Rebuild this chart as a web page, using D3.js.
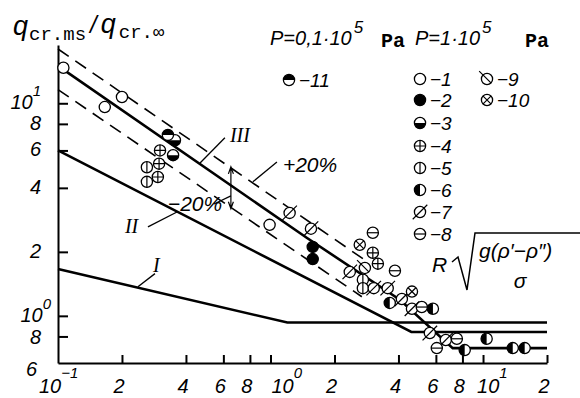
<!DOCTYPE html>
<html>
<head>
<meta charset="utf-8">
<script src="https://cdn.jsdelivr.net/npm/d3@7"></script>
<style>
  body { margin: 0; background: #fff; }
  svg { display: block; background: #fff; }
  .num { font-family: "Liberation Sans", Arial, sans-serif; font-style: italic; }
  .rom { font-family: "Liberation Serif", "DejaVu Serif", serif; font-style: italic; }
  .mono { font-family: "Liberation Mono", "DejaVu Sans Mono", monospace; }
</style>
</head>
<body>
<svg id="chart" width="580" height="398"></svg>
<script>
// grab the svg
let svg = d3.select("#chart");

// curves I, II, III  [x, y]
const curve1 = [[0.1, 1.66], [1.2, 0.93], [20, 0.93]];
const curve2 = [[0.1, 6.0], [4.6, 0.84], [20, 0.84]];
const curve3 = [[0.1, 15.0], [1.48, 2.33], [4.06, 1.19], [7.2, 0.705], [20, 0.705]];
// +20% / -20% band round curve III
const bandUpper = [[0.1, 18.0], [2.78, 1.83]];
const bandLower = [[0.1, 11.6], [2.69, 1.23]];

// experimental points, one list per legend symbol
const pts1 = [[0.106, 14.7], [0.166, 9.6], [0.20, 10.7], [0.99, 2.68]];
const pts2 = [[1.58, 2.11], [1.58, 1.85]];
const pts3 = [[0.355, 6.7], [0.348, 5.7]];
const pts4 = [[0.302, 6.0], [0.299, 5.2], [0.295, 4.5], [3.03, 1.98], [3.2, 1.76]];
const pts5 = [[0.262, 5.0], [0.262, 4.27], [2.72, 1.48], [2.72, 1.35]];
const pts6 = [[3.64, 1.15], [5.81, 1.08], [8.2, 0.69], [10.4, 0.78], [13.8, 0.705], [15.7, 0.705]];
const pts7 = [[1.23, 3.05], [1.55, 2.57], [2.36, 1.61], [3.06, 1.35], [3.56, 1.35], [4.15, 1.20], [4.63, 1.08], [5.62, 0.83], [6.68, 0.77]];
const pts8 = [[3.03, 2.46], [3.85, 1.63], [5.15, 1.10], [6.06, 0.705], [7.53, 0.78]];
const pts9 = [[2.78, 1.68]];
const pts10 = [[2.63, 2.16], [4.63, 1.30]];
const pts11 = [[0.329, 7.1]];
const allPts = [pts1, pts2, pts3, pts4, pts5, pts6, pts7, pts8, pts9, pts10, pts11];

// ticks
const xTicks = [0.1, 0.2, 0.4, 0.6, 0.8, 1, 2, 4, 6, 8, 10, 20];
const xTickText = ["10", "2", "4", "6", "8", "10", "2", "4", "6", "8", "10", "2"];
const xTickSup = ["\u22121", "", "", "", "", "0", "", "", "", "", "1", ""];
const yTicks = [0.6, 0.8, 1, 2, 4, 6, 8, 10];
const yTickText = ["6", "8", "10", "2", "4", "6", "8", "10"];
const yTickSup = ["", "", "0", "", "", "", "", "1"];

// annotations
const curveLabels = [
  { t: "III", x: 0.644, y: 6.58 },
  { t: "II", x: 0.2065, y: 2.46 },
  { t: "I", x: 0.28, y: 1.61 }
];
const pctLabels = [
  { t: "+20%", x: 1.144, y: 4.76 },
  { t: "\u221220%", x: 0.329, y: 3.12 }
];
const leaders = [
  [[0.466, 5.24], [0.61, 6.88]],
  [[0.265, 2.62], [0.363, 3.08]],
  [[0.2378, 1.37], [0.286, 1.58]],
  [[0.826, 4.27], [1.072, 5.30]],
  [[0.542, 3.36], [0.651, 3.67]]
];
const bandArrow = { x: 0.651, y1: 5.02, y2: 3.19 };

// scales
let x = d3.scaleLog().domain([0.1, 20]).range([58, 547]);
let y = d3.scaleLog().domain([0.6, 18.8]).range([363, 45]);

let line = d3.line().x(d => x(d[0])).y(d => y(d[1]));

// axes, ticks pointing inwards
svg.append("g")
  .attr("transform", "translate(58,0)")
  .call(d3.axisLeft(y).tickValues(yTicks.slice(1)).tickSizeInner(-10).tickSizeOuter(0).tickFormat(""))
  .call(g => g.selectAll("path,line").attr("stroke", "#000").attr("stroke-width", 2));
svg.append("g")
  .attr("transform", "translate(0,363)")
  .call(d3.axisBottom(x).tickValues(xTicks.slice(1)).tickSizeInner(-8).tickSizeOuter(0).tickFormat(""))
  .call(g => g.selectAll("path,line").attr("stroke", "#000").attr("stroke-width", 2));

// tick labels
xTicks.forEach((v, i) => {
  let t = svg.append("text").attr("class", "num").attr("font-size", 20).attr("y", 393);
  if (xTickSup[i]) {
    let dx = v === 0.1 ? -19 : v === 1 ? 1 : -6;
    t.attr("x", x(v) + dx).attr("text-anchor", "start").text(xTickText[i]);
    t.append("tspan").attr("dy", -15).attr("font-size", 15).text(xTickSup[i]);
  } else {
    t.attr("x", x(v) - 3).attr("text-anchor", "middle").text(xTickText[i]);
  }
});
yTicks.forEach((v, i) => {
  let base = v === 0.6 ? 376 : v === 0.8 ? y(v) + 8 : y(v) + 6;
  let t = svg.append("text").attr("class", "num").attr("font-size", 20)
    .attr("text-anchor", "end")
    .attr("x", v === 1 ? 51 : v === 0.6 ? 37 : 41)
    .attr("y", base)
    .text(yTickText[i]);
  if (yTickSup[i]) t.append("tspan").attr("dy", -13).attr("font-size", 15).text(yTickSup[i]);
});

// curves
[curve1, curve2, curve3].forEach(c => {
  svg.append("path").datum(c).attr("d", line)
    .attr("fill", "none").attr("stroke", "#000").attr("stroke-width", 2.6);
});
[bandUpper, bandLower].forEach(c => {
  svg.append("path").datum(c).attr("d", line)
    .attr("fill", "none").attr("stroke", "#000").attr("stroke-width", 1.6)
    .attr("stroke-dasharray", "13,8");
});

// leader lines
leaders.forEach(l => {
  svg.append("path").datum(l).attr("d", line)
    .attr("fill", "none").attr("stroke", "#000").attr("stroke-width", 1.3);
});
// double arrow across the band
let ax = x(bandArrow.x), ay1 = y(bandArrow.y1), ay2 = y(bandArrow.y2);
svg.append("path")
  .attr("d", `M${ax},${ay1}V${ay2}M${ax - 2.5},${ay1 + 7}L${ax},${ay1}L${ax + 2.5},${ay1 + 7}M${ax - 2.5},${ay2 - 7}L${ax},${ay2}L${ax + 2.5},${ay2 - 7}`)
  .attr("fill", "none").attr("stroke", "#000").attr("stroke-width", 1.2);

curveLabels.forEach(d => {
  svg.append("text").attr("class", "rom").attr("font-size", 20)
    .attr("x", x(d.x)).attr("y", y(d.y)).text(d.t);
});
pctLabels.forEach(d => {
  svg.append("text").attr("class", "num").attr("font-size", 21)
    .attr("x", x(d.x)).attr("y", y(d.y)).text(d.t);
});

// symbols
function marker(sel, type, cx, cy) {
  const r = 5.6;
  let g = sel.append("g").attr("transform", `translate(${cx},${cy})`);
  g.append("circle").attr("r", r)
    .attr("fill", type === 2 ? "#000" : "#fff")
    .attr("stroke", "#000").attr("stroke-width", 1.3);
  let blk = d => g.append("path").attr("d", d).attr("fill", "#000");
  let ln = d => g.append("path").attr("d", d).attr("fill", "none").attr("stroke", "#000").attr("stroke-width", 1.2);
  if (type === 3) blk(`M${-r},0A${r},${r} 0 0,0 ${r},0Z`);
  if (type === 11) blk(`M${-r},0A${r},${r} 0 0,1 ${r},0Z`);
  if (type === 6) blk(`M0,${-r}A${r},${r} 0 0,0 0,${r}Z`);
  if (type === 4) ln(`M${-r},0H${r}M0,${-r}V${r}`);
  if (type === 5) ln(`M0,${-r}V${r}`);
  if (type === 8) ln(`M${-r},0H${r}`);
  if (type === 7) ln(`M${-1.3 * r},${1.3 * r}L${1.3 * r},${-1.3 * r}`);
  if (type === 9) ln(`M${-1.4 * r},${-1.4 * r}L${0.75 * r},${0.75 * r}`);
  if (type === 10) { let k = 0.7 * r; ln(`M${-k},${-k}L${k},${k}M${-k},${k}L${k},${-k}`); }
}

let pg = svg.append("g");
allPts.forEach((s, i) => {
  s.forEach(p => marker(pg, i + 1, x(p[0]), y(p[1])));
});

// axis titles
let yt = svg.append("text").attr("x", 13).attr("y", 35);
yt.append("tspan").attr("class", "num").attr("font-size", 27).text("q");
yt.append("tspan").attr("class", "mono").attr("font-size", 19).attr("dy", 5).attr("dx", 1).text("cr.ms");
yt.append("tspan").attr("class", "num").attr("font-size", 24).attr("dy", -7).attr("dx", 4).text("/");
yt.append("tspan").attr("class", "num").attr("font-size", 27).attr("dx", 4).text("q");
yt.append("tspan").attr("class", "mono").attr("font-size", 19).attr("dy", 5).attr("dx", 3).text("cr.\u221e");

let xt = svg.append("g");
xt.append("text").attr("class", "num").attr("font-size", 21).attr("x", 432).attr("y", 272).text("R");
xt.append("path").attr("d", "M452,262L458,257L467,290L475,233L580,233")
  .attr("fill", "none").attr("stroke", "#000").attr("stroke-width", 1.5);
xt.append("text").attr("class", "num").attr("font-size", 21).attr("x", 479).attr("y", 258).text("g(\u03c1\u2032\u2212\u03c1\u2033)");
xt.append("text").attr("class", "num").attr("font-size", 21).attr("x", 520).attr("y", 288).attr("text-anchor", "middle").text("\u03c3");

// legend
let lg = svg.append("g");
function header(x0, main) {
  let t = lg.append("text").attr("class", "num").attr("font-size", 20).attr("x", x0).attr("y", 45).text(main);
  t.append("tspan").attr("font-size", 17).attr("dy", -12).attr("dx", 2).text("5");
}
header(270, "P=0,1\u00b710");
lg.append("text").attr("class", "mono").attr("font-weight", "bold").attr("font-size", 20).attr("x", 381).attr("y", 47).text("Pa");
header(415, "P=1\u00b710");
lg.append("text").attr("class", "mono").attr("font-weight", "bold").attr("font-size", 20).attr("x", 525).attr("y", 47).text("Pa");

const legendRows = [79, 100, 123, 146, 168, 190, 212, 234];
function legendItem(type, mx, my) {
  marker(lg, type, mx, my);
  lg.append("text").attr("class", "num").attr("font-size", 19).attr("x", mx + 10).attr("y", my + 7).text("\u2212" + type);
}
for (let i = 1; i <= 8; i++) legendItem(i, 420, legendRows[i - 1]);
legendItem(9, 487, legendRows[0]);
legendItem(10, 487, legendRows[1]);
legendItem(11, 289, 80);
</script>
</body>
</html>
